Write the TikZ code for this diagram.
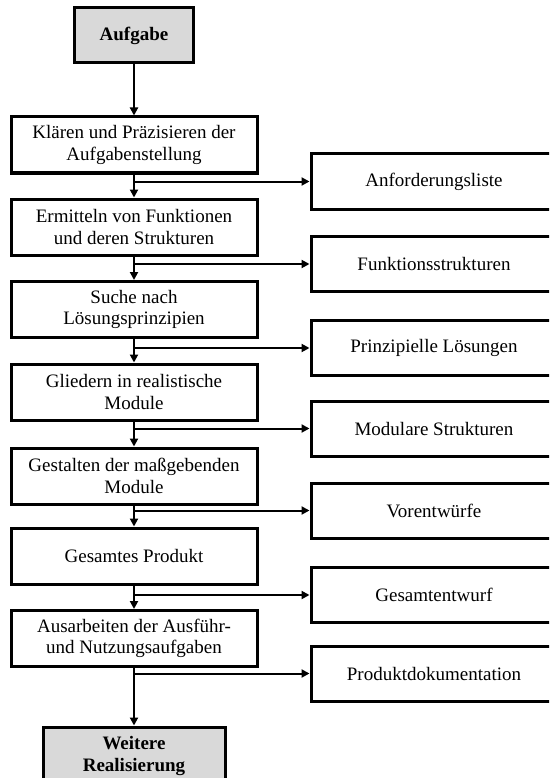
\documentclass[tikz,border=0pt]{standalone}
\usepackage{fontspec}
\setmainfont{Liberation Serif}
\usetikzlibrary{arrows.meta}
\begin{document}
\begin{tikzpicture}[x=1pt,y=-1pt,
  box/.style={draw,line width=3pt,rectangle,align=center,inner sep=0pt,
    font=\fontsize{19}{21.5}\selectfont},
  stepbox/.style={box,minimum width=246pt,minimum height=56pt},
  resultbox/.style={box,minimum width=246pt,minimum height=55pt},
  termbox/.style={box,fill=termgray,font=\fontsize{19}{21.5}\selectfont\bfseries},
  arr/.style={line width=2pt,-{Triangle[length=8pt,width=8pt]}}]
\definecolor{termgray}{HTML}{D9D9D9}
\useasboundingbox (0,0) rectangle (549,778);
\clip (0,0) rectangle (549,778);

% start and end of the process
\node[termbox,minimum width=119pt,minimum height=55pt] (start) at (134,35.5) {Aufgabe};
\node[termbox,minimum width=182pt,minimum height=58pt] (end) at (134,756) {Weitere\\Realisierung};

% working steps
\node[stepbox] (s1) at (134,145)   {Klären und Präzisieren der\\Aufgabenstellung};
\node[stepbox] (s2) at (134,227)   {Ermitteln von Funktionen\\und deren Strukturen};
\node[stepbox] (s3) at (134,309.5) {Suche nach\\Lösungsprinzipien};
\node[stepbox] (s4) at (134,392)   {Gliedern in realistische\\Module};
\node[stepbox] (s5) at (134,476)   {Gestalten der maßgebenden\\Module};
\node[stepbox] (s6) at (134,556)   {Gesamtes Produkt};
\node[stepbox] (s7) at (134,638.5) {Ausarbeiten der Ausführ-\\und Nutzungsaufgaben};

% results of each step
\node[resultbox] (r1) at (434,181.5) {Anforderungsliste};
\node[resultbox] (r2) at (434,264)   {Funktionsstrukturen};
\node[resultbox] (r3) at (434,348)   {Prinzipielle Lösungen};
\node[resultbox] (r4) at (434,428.5) {Modulare Strukturen};
\node[resultbox] (r5) at (434,510.5) {Vorentwürfe};
\node[resultbox] (r6) at (434,595)   {Gesamtentwurf};
\node[resultbox] (r7) at (434,673.5) {Produktdokumentation};

% main flow
\draw[arr] (start) -- (s1);
\draw[arr] (s1) -- (s2);
\draw[arr] (s2) -- (s3);
\draw[arr] (s3) -- (s4);
\draw[arr] (s4) -- (s5);
\draw[arr] (s5) -- (s6);
\draw[arr] (s6) -- (s7);
\draw[arr] (s7) -- (end);

% branches to the results
\foreach \i in {1,...,7}
  \draw[arr] (s\i.south |- r\i.west) -- (r\i.west);
\end{tikzpicture}
\end{document}
